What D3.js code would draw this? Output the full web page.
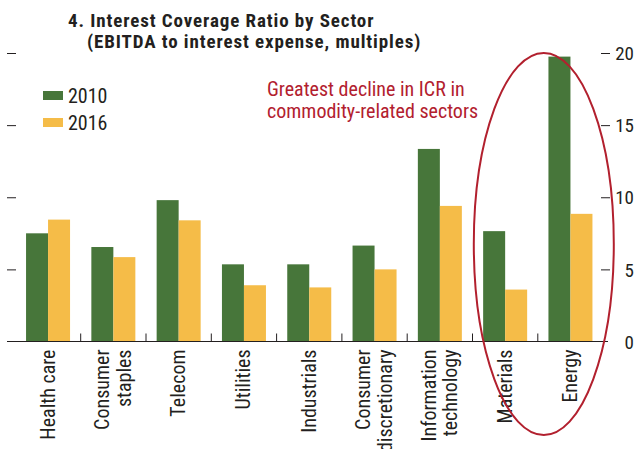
<!DOCTYPE html>
<html>
<head>
<meta charset="utf-8">
<script src="https://cdn.jsdelivr.net/npm/d3@7"></script>
<style>
  body { margin: 0; background: #fff; }
  svg { display: block; }
  text { font-family: "Liberation Sans Narrow", "Arial Narrow", "Roboto Condensed", sans-serif; fill: #231f20; }
  .title { font-weight: bold; font-size: 19px; letter-spacing: 0.9px; }
  .note { fill: #b2202e; font-size: 20px; }
  .legend text { font-size: 20px; }
  .axis text { font-size: 19px; }
  .catLabel { font-size: 20px; }
</style>
</head>
<body>
<div id="graphic"></div>
<script>
// sectors, split into the lines used under the axis
var categories = ["Health care", "Consumer staples", "Telecom", "Utilities", "Industrials",
  "Consumer discretionary", "Information technology", "Materials", "Energy"];
var categoryLines = [["Health care"], ["Consumer", "staples"], ["Telecom"], ["Utilities"], ["Industrials"],
  ["Consumer", "discretionary"], ["Information", "technology"], ["Materials"], ["Energy"]];

var seriesNames = ["2010", "2016"];
var values2010 = [7.5, 6.55, 9.8, 5.35, 5.35, 6.65, 13.35, 7.65, 19.75];
var values2016 = [8.45, 5.85, 8.4, 3.9, 3.75, 5.0, 9.4, 3.6, 8.85];

var yTicks = [0, 5, 10, 15, 20];

var width = 638, height = 449;

var colour = d3.scaleOrdinal()
  .domain(seriesNames)
  .range(["#47763a", "#f5bc48"]);

var svg = d3.select('#graphic').append('svg')
  .attr('width', width)
  .attr('height', height);

//scales
var x = d3.scaleBand()
  .domain(categories)
  .range([15.4, 603.1]);

var x1 = d3.scaleBand()
  .domain(seriesNames)
  .range([x.bandwidth() / 2 - 22, x.bandwidth() / 2 + 22]);

var y = d3.scaleLinear()
  .domain([0, 20])
  .range([341.5, 53]);

var data = categories.map(function(c, i) {
  return { name: c, lines: categoryLines[i], values: [values2010[i], values2016[i]] };
});

// bars
var groups = svg.selectAll('g.group')
  .data(data)
  .join('g')
  .attr('class', 'group')
  .attr('transform', d => 'translate(' + x(d.name) + ',0)');

groups.selectAll('rect')
  .data(d => d.values.map((v, i) => ({ key: seriesNames[i], value: v })))
  .join('rect')
  .attr('x', d => x1(d.key))
  .attr('width', x1.bandwidth())
  .attr('y', d => y(d.value))
  .attr('height', d => y(0) - y(d.value))
  .attr('fill', d => colour(d.key));

// left ticks (no labels)
var leftAxis = d3.axisLeft(y)
  .tickValues(yTicks.slice(1))
  .tickSize(9)
  .tickFormat('');

svg.append('g')
  .attr('class', 'axis left')
  .attr('transform', 'translate(16,0)')
  .call(leftAxis)
  .call(g => g.select('.domain').remove())
  .call(g => g.selectAll('line').attr('stroke', '#231f20'));

// right axis
var rightAxis = d3.axisRight(y)
  .tickValues(yTicks)
  .tickSize(9)
  .tickPadding(0);

svg.append('g')
  .attr('class', 'axis right')
  .attr('transform', 'translate(601,0)')
  .call(rightAxis)
  .call(g => g.select('.domain').remove())
  .call(g => g.selectAll('line').attr('stroke', '#231f20').filter(d => d == 0).remove())
  .call(g => g.selectAll('text')
    .attr('x', 33)
    .attr('text-anchor', 'end')
    .attr('dy', '0.35em')
    .attr('fill', '#231f20'));

// baseline
svg.append('line')
  .attr('x1', 7)
  .attr('x2', 608)
  .attr('y1', y(0))
  .attr('y2', y(0))
  .attr('stroke', '#231f20')
  .attr('stroke-width', 1.2);

// separators between sectors
svg.selectAll('line.sep')
  .data(categories.slice(1))
  .join('line')
  .attr('class', 'sep')
  .attr('x1', d => x(d))
  .attr('x2', d => x(d))
  .attr('y1', y(0))
  .attr('y2', y(0) - 8)
  .attr('stroke', '#231f20');

// category labels, rotated
var lineHeight = 21.5;
var labels = svg.selectAll('text.catLabel')
  .data(data)
  .join('text')
  .attr('class', 'catLabel')
  .attr('text-anchor', 'end')
  .attr('transform', d => 'translate(' + (x(d.name) + x.bandwidth() / 2) + ',' + (y(0) + 8) + ') rotate(-90)');

labels.selectAll('tspan')
  .data(d => d.lines.map((l, i) => ({ text: l, i: i, n: d.lines.length })))
  .join('tspan')
  .attr('x', 0)
  .attr('y', d => 6.5 + (d.i - (d.n - 1) / 2) * lineHeight)
  .text(d => d.text);

// title
svg.append('text')
  .attr('class', 'title')
  .attr('x', 68)
  .attr('y', 27)
  .text('4. Interest Coverage Ratio by Sector');

svg.append('text')
  .attr('class', 'title')
  .attr('x', 87)
  .attr('y', 48)
  .text('(EBITDA to interest expense, multiples)');

// legend
var legend = svg.append('g')
  .attr('class', 'legend')
  .selectAll('g')
  .data(seriesNames)
  .join('g')
  .attr('transform', (d, i) => 'translate(43,' + (91 + i * 27) + ')');

legend.append('rect')
  .attr('width', 20)
  .attr('height', 9)
  .attr('fill', d => colour(d));

legend.append('text')
  .attr('x', 25)
  .attr('y', 12)
  .text(d => d);

// annotation
svg.append('text')
  .attr('class', 'note')
  .attr('x', 267)
  .attr('y', 96)
  .text('Greatest decline in ICR in');

svg.append('text')
  .attr('class', 'note')
  .attr('x', 267)
  .attr('y', 118)
  .text('commodity-related sectors');

svg.append('ellipse')
  .attr('cx', x('Energy') + 6)
  .attr('cy', (y(20) + 435) / 2)
  .attr('rx', 70)
  .attr('ry', (435 - y(20)) / 2)
  .attr('fill', 'none')
  .attr('stroke', '#b2202e')
  .attr('stroke-width', 2);
</script>
</body>
</html>
